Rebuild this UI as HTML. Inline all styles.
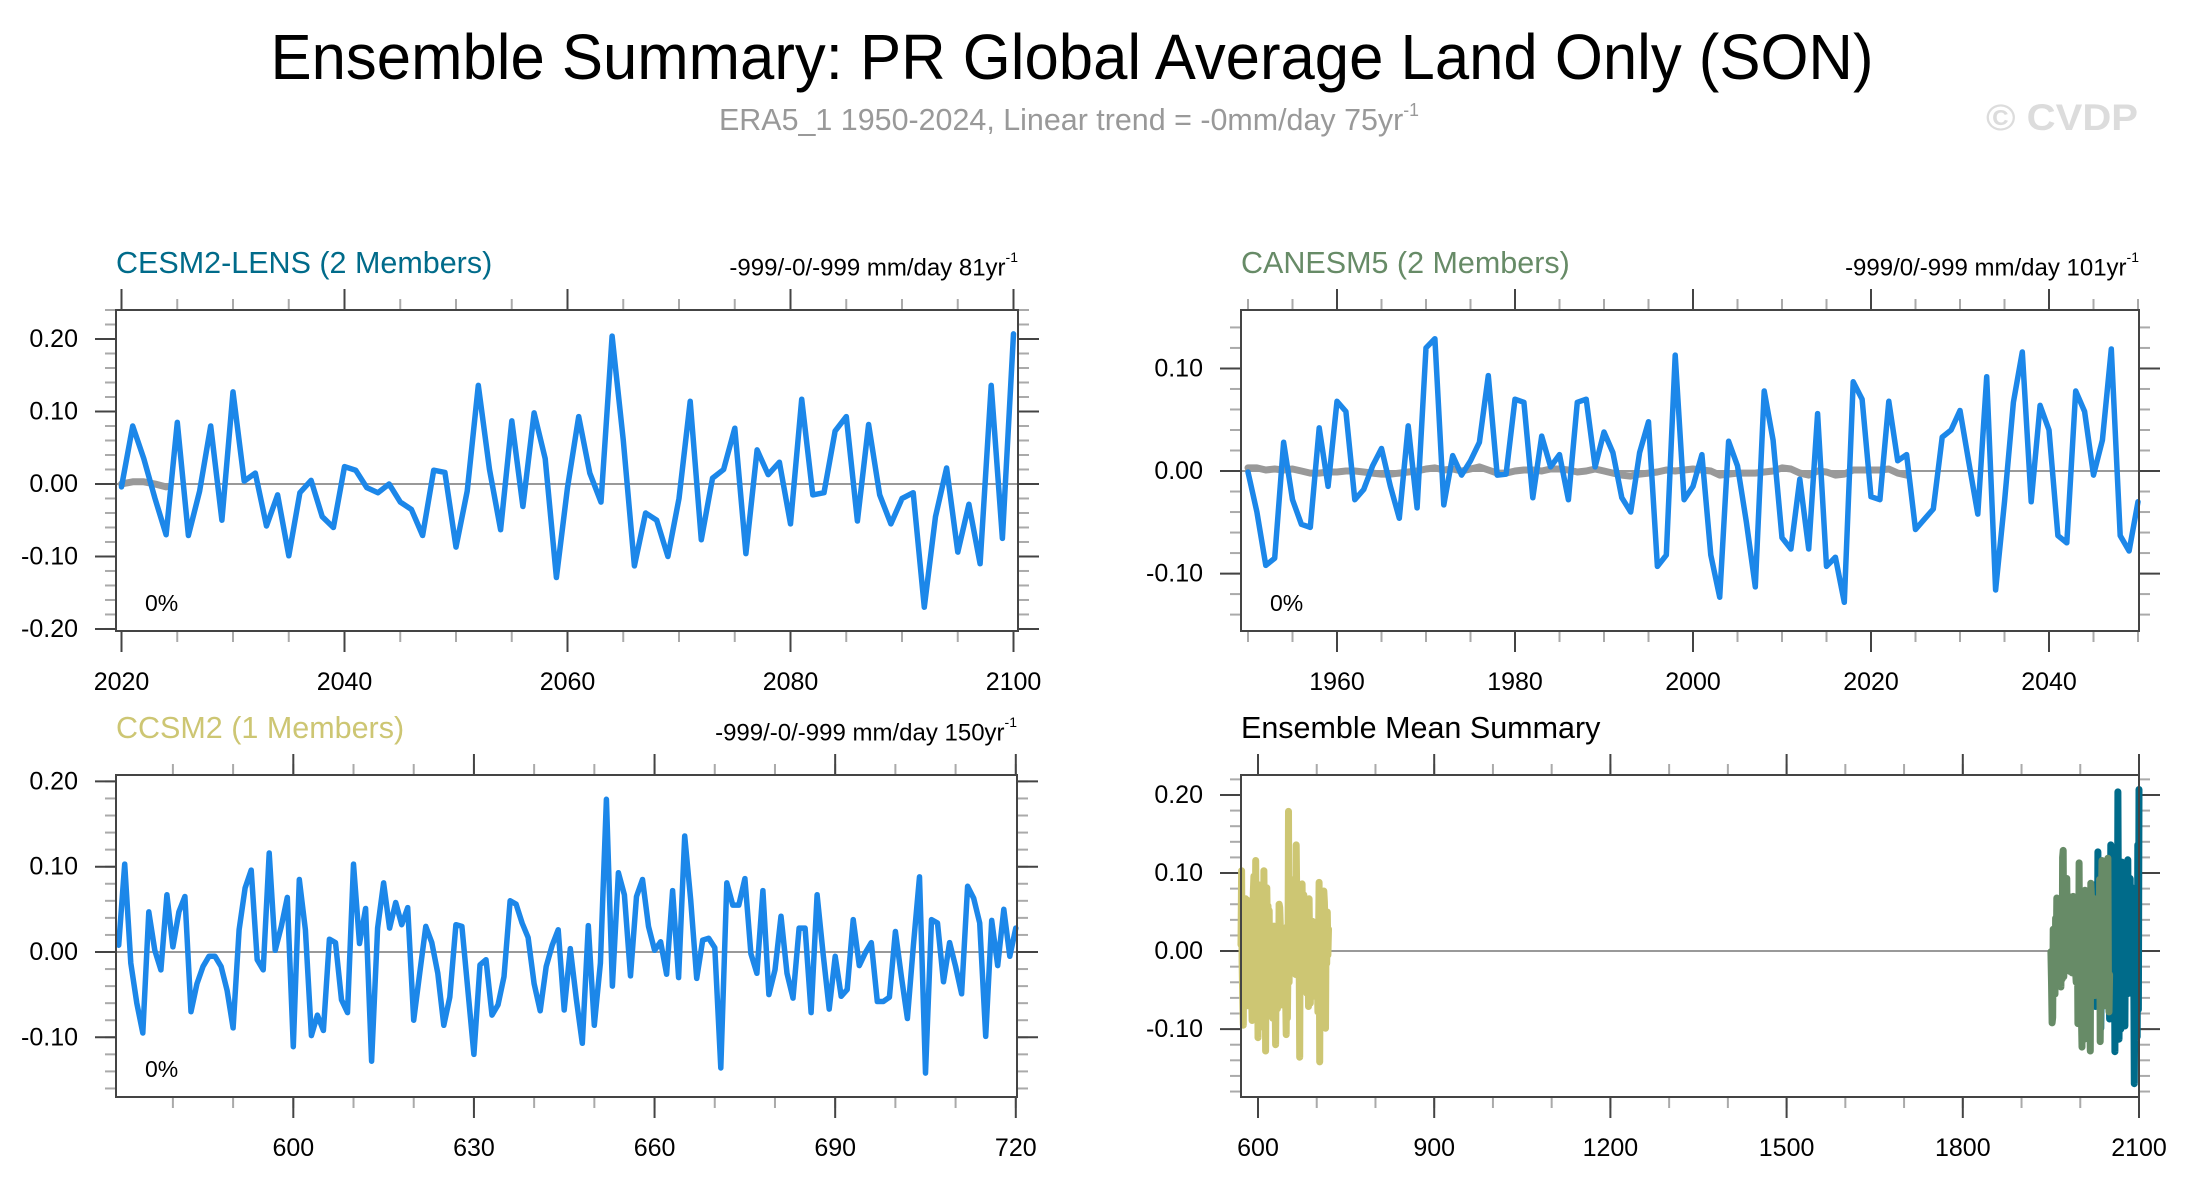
<!DOCTYPE html>
<html><head><meta charset="utf-8"><style>
html,body{margin:0;padding:0;background:#fff;}
svg{display:block;font-family:"Liberation Sans",sans-serif;}
</style></head><body>
<svg id="fig" width="2189" height="1190" viewBox="0 0 2189 1190" xmlns="http://www.w3.org/2000/svg">
<rect x="0" y="0" width="2189" height="1190" fill="#fff"/>
<text x="1072" y="79" font-size="64" text-anchor="middle" textLength="1603" lengthAdjust="spacingAndGlyphs" fill="#000">Ensemble Summary: PR Global Average Land Only (SON)</text>
<text x="719" y="130" font-size="31" fill="#999" textLength="700" lengthAdjust="spacingAndGlyphs">ERA5_1 1950-2024, Linear trend = -0mm/day 75yr<tspan font-size="18" dy="-14">-1</tspan></text>
<text x="1986" y="130" font-size="37" font-weight="bold" fill="#dcdcdc" textLength="152" lengthAdjust="spacingAndGlyphs">© CVDP</text>
<g id="plots"></g>
</svg>
<script>
// ---- data ----
const cesmYears = [2020, 2100];
const cesmValues = [-0.004,0.080,0.035,-0.020,-0.070,0.085,-0.071,-0.010,0.080,-0.050,0.127,0.004,0.015,-0.058,-0.015,-0.099,-0.012,0.005,-0.045,-0.060,0.024,0.019,-0.005,-0.012,0.000,-0.025,-0.035,-0.071,0.019,0.016,-0.087,-0.010,0.136,0.020,-0.063,0.087,-0.031,0.098,0.035,-0.129,-0.005,0.093,0.015,-0.025,0.204,0.060,-0.113,-0.040,-0.050,-0.100,-0.020,0.114,-0.077,0.008,0.020,0.077,-0.096,0.047,0.013,0.030,-0.055,0.117,-0.015,-0.012,0.073,0.093,-0.051,0.082,-0.015,-0.055,-0.020,-0.012,-0.170,-0.045,0.022,-0.094,-0.028,-0.110,0.136,-0.075,0.207];
const cesmObs = [0.000,0.003,0.003,0.000,-0.004];
const canYears = [1950, 2050];
const canValues = [-0.001,-0.040,-0.092,-0.085,0.028,-0.028,-0.052,-0.055,0.042,-0.015,0.068,0.058,-0.028,-0.018,0.005,0.022,-0.015,-0.046,0.044,-0.036,0.120,0.129,-0.033,0.015,-0.004,0.010,0.028,0.093,-0.004,-0.003,0.070,0.067,-0.026,0.034,0.004,0.016,-0.028,0.067,0.070,0.004,0.038,0.018,-0.026,-0.040,0.018,0.048,-0.093,-0.082,0.113,-0.028,-0.015,0.016,-0.082,-0.123,0.029,0.005,-0.050,-0.113,0.078,0.030,-0.065,-0.076,-0.008,-0.076,0.056,-0.093,-0.084,-0.128,0.087,0.070,-0.025,-0.028,0.068,0.010,0.016,-0.057,-0.047,-0.037,0.033,0.040,0.059,0.008,-0.042,0.092,-0.116,-0.030,0.067,0.116,-0.030,0.064,0.040,-0.063,-0.070,0.078,0.058,-0.004,0.030,0.119,-0.063,-0.078,-0.030];
const canObs = [0.003,0.003,0.001,0.002,0.001,0.002,0.000,-0.002,-0.002,-0.001,-0.001,0.000,0.000,-0.001,-0.002,-0.003,-0.003,-0.002,-0.001,0.000,0.002,0.003,0.001,0.002,0.000,0.002,0.004,0.001,-0.002,-0.002,0.000,0.001,0.001,0.000,0.002,0.002,0.001,-0.001,0.000,0.002,0.000,-0.002,-0.004,-0.005,-0.003,-0.002,-0.001,0.001,0.000,0.001,0.002,0.001,0.000,-0.004,-0.003,-0.002,-0.002,-0.002,-0.001,0.000,0.003,0.002,-0.002,-0.004,0.000,-0.001,-0.004,-0.003,0.001,0.001,0.001,0.001,0.002,-0.002,-0.004];
const ccsmYears = [571, 720];
const ccsmValues = [0.008,0.103,-0.013,-0.060,-0.095,0.047,0.002,-0.021,0.067,0.006,0.047,0.065,-0.070,-0.037,-0.017,-0.005,-0.005,-0.017,-0.045,-0.089,0.026,0.075,0.096,-0.009,-0.021,0.116,0.002,0.030,0.064,-0.111,0.085,0.026,-0.098,-0.074,-0.092,0.015,0.011,-0.056,-0.071,0.103,0.010,0.051,-0.128,0.028,0.081,0.028,0.058,0.032,0.052,-0.080,-0.025,0.030,0.011,-0.025,-0.086,-0.053,0.032,0.030,-0.045,-0.120,-0.015,-0.009,-0.074,-0.062,-0.029,0.060,0.056,0.034,0.017,-0.037,-0.069,-0.017,0.008,0.026,-0.068,0.004,-0.055,-0.107,0.031,-0.086,-0.013,0.179,-0.040,0.093,0.067,-0.028,0.065,0.085,0.030,0.002,0.012,-0.026,0.072,-0.030,0.136,0.061,-0.031,0.014,0.016,0.005,-0.136,0.081,0.055,0.055,0.086,-0.002,-0.025,0.072,-0.050,-0.021,0.042,-0.025,-0.054,0.028,0.028,-0.071,0.067,-0.002,-0.067,-0.005,-0.052,-0.044,0.038,-0.016,-0.001,0.011,-0.058,-0.058,-0.053,0.024,-0.029,-0.078,0.008,0.088,-0.142,0.038,0.034,-0.035,0.011,-0.017,-0.049,0.077,0.063,0.034,-0.099,0.037,-0.016,0.050,-0.005,0.028];
const p1XTicks = [2020,2040,2060,2080,2100];
const p2XTicks = [1960,1980,2000,2020,2040];
const p3XTicks = [600,630,660,690,720];
const p4XTicks = [600,900,1200,1500,1800,2100];
const p1YTicks = ["0.20","0.10","0.00","-0.10","-0.20"];
const p2YTicks = ["0.10","0.00","-0.10"];
const p3YTicks = ["0.20","0.10","0.00","-0.10"];
const p4YTicks = ["0.20","0.10","0.00","-0.10"];

const NS = "http://www.w3.org/2000/svg";
const root = document.getElementById('plots');
function mk(tag, attrs, parent){
  const e = document.createElementNS(NS, tag);
  for (const k in attrs) e.setAttribute(k, attrs[k]);
  (parent||root).appendChild(e);
  return e;
}
function txt(parent, x, y, s, size, anchor, fill){
  const t = mk('text', {x:x, y:y, 'font-size':size, 'text-anchor':anchor||'start', fill:fill||'#000', 'dominant-baseline':'central'}, parent);
  t.textContent = s;
  return t;
}

function panel(cfg){
  const g = mk('g', {});
  
  
  const X = v => cfg.L + (v - cfg.xmin) / (cfg.xmax - cfg.xmin) * (cfg.R - cfg.L);
  const Y = v => cfg.B - (v - cfg.ymin) / (cfg.ymax - cfg.ymin) * (cfg.B - cfg.T);
  for (let v = Math.ceil(cfg.xmin / cfg.xMinor) * cfg.xMinor; v <= cfg.xmax + 1e-9; v += cfg.xMinor) {
    const x = X(v);
    const t1 = mk('line', {x1:x, x2:x, y1:cfg.T, y2:cfg.T-11, stroke:'#aaa', 'stroke-width':2}, g);
    
    
    const t2 = mk('line', {x1:x, x2:x, y1:cfg.B, y2:cfg.B+11, stroke:'#aaa', 'stroke-width':2}, g);
    
    
  }
  for (let v = Math.ceil(cfg.ymin / 0.02) * 0.02; v <= cfg.ymax + 1e-9; v += 0.02) {
    const y = Y(v);
    const t1 = mk('line', {x1:cfg.L, x2:cfg.L-11, y1:y, y2:y, stroke:'#aaa', 'stroke-width':2}, g);
    
    
    const t2 = mk('line', {x1:cfg.R, x2:cfg.R+11, y1:y, y2:y, stroke:'#aaa', 'stroke-width':2}, g);
    
    
  }
  cfg.xTicks.forEach(v => {
    const x = X(v);
    const t1 = mk('line', {x1:x, x2:x, y1:cfg.T, y2:cfg.T-21, stroke:'#444', 'stroke-width':2}, g);
    
    
    const t2 = mk('line', {x1:x, x2:x, y1:cfg.B, y2:cfg.B+21, stroke:'#444', 'stroke-width':2}, g);
    
    
    const lb = txt(g, x, cfg.B + 51, String(v), 25, 'middle');
    
    
  });
  cfg.yTicks.forEach(s => {
    const y = Y(parseFloat(s));
    const t1 = mk('line', {x1:cfg.L, x2:cfg.L-21, y1:y, y2:y, stroke:'#444', 'stroke-width':2}, g);
    
    
    const t2 = mk('line', {x1:cfg.R, x2:cfg.R+21, y1:y, y2:y, stroke:'#444', 'stroke-width':2}, g);
    
    
    const lb = txt(g, cfg.L - 38, y, s, 25, 'end');
    
    
  });
  const z = mk('line', {x1:cfg.L, x2:cfg.R, y1:Y(0), y2:Y(0), stroke:'#999', 'stroke-width':2}, g);
  
  
  cfg.series.forEach(s => {
    const pts = s.values.map((v, i) => X(s.start + i).toFixed(1) + ',' + Y(v).toFixed(1)).join(' ');
    const pl = mk('polyline', {points:pts, fill:'none', stroke:s.color, 'stroke-width':s.width, 'stroke-linejoin':'round', 'stroke-linecap':'round'}, g);
    
    
  });
  const fr = mk('rect', {x:cfg.L, y:cfg.T, width:cfg.R-cfg.L, height:cfg.B-cfg.T, fill:'none', stroke:'#444', 'stroke-width':2}, g);
  
  
  const ti = txt(g, cfg.L, cfg.T - 47, cfg.title, 30.5, 'start', cfg.titleColor);
  
  
  if (cfg.trend) {
    const tr = mk('text', {x:cfg.R, y:cfg.T - 42, 'font-size':24, 'text-anchor':'end', fill:'#000', 'dominant-baseline':'central'}, g);
    
    
    tr.textContent = cfg.trend;
    const sp = mk('tspan', {'font-size':14, dy:-11}, tr);
    sp.textContent = '-1';
  }
  if (cfg.pct) {
    const pc = txt(g, cfg.L + 29, cfg.B - 28, '0%', 23, 'start');
    
    
  }
}

const BLUE = '#1c87e9';
panel({name:'cesm2-lens-panel', L:116, R:1018, T:310, B:631, xmin:2020-5.5/11.15, xmax:2100+4.5/11.15, ymin:-0.2028, ymax:0.24,
  xMinor:5, xTicks:p1XTicks, yTicks:p1YTicks, title:'CESM2-LENS (2 Members)', titleColor:'#006b8a',
  trend:'-999/-0/-999 mm/day 81yr', pct:true,
  series:[{name:'obs-range-line', start:cesmYears[0], values:cesmObs, color:'#999', width:7},
          {name:'cesm2-lens-line', start:cesmYears[0], values:cesmValues, color:BLUE, width:5.5}]});
panel({name:'canesm5-panel', L:1241, R:2139, T:310, B:631, xmin:1960-96/8.9, xmax:2040+90/8.9, ymin:-0.156, ymax:0.157,
  xMinor:5, xTicks:p2XTicks, yTicks:p2YTicks, title:'CANESM5 (2 Members)', titleColor:'#678b67',
  trend:'-999/0/-999 mm/day 101yr', pct:true,
  series:[{name:'obs-range-line', start:canYears[0], values:canObs, color:'#999', width:7},
          {name:'canesm5-line', start:canYears[0], values:canValues, color:BLUE, width:5.5}]});
panel({name:'ccsm2-panel', L:116, R:1017, T:775, B:1097, xmin:570.55, xmax:720.2, ymin:-0.170, ymax:0.2075,
  xMinor:10, xTicks:p3XTicks, yTicks:p3YTicks, title:'CCSM2 (1 Members)', titleColor:'#cdc673',
  trend:'-999/-0/-999 mm/day 150yr', pct:true,
  series:[{name:'ccsm2-line', start:ccsmYears[0], values:ccsmValues, color:BLUE, width:5.5}]});
panel({name:'ensemble-mean-panel', L:1241, R:2139, T:775, B:1097, xmin:600-17/0.5873, xmax:2100, ymin:-0.187, ymax:0.2256,
  xMinor:100, xTicks:p4XTicks, yTicks:p4YTicks, title:'Ensemble Mean Summary', titleColor:'#000',
  trend:null, pct:false,
  series:[{name:'ccsm2-mean-line', start:ccsmYears[0], values:ccsmValues, color:'#cdc673', width:7},
          {name:'cesm2-lens-mean-line', start:cesmYears[0], values:cesmValues, color:'#006b8a', width:7},
          {name:'canesm5-mean-line', start:canYears[0], values:canValues, color:'#678b67', width:7}]});
</script>
</body></html>
